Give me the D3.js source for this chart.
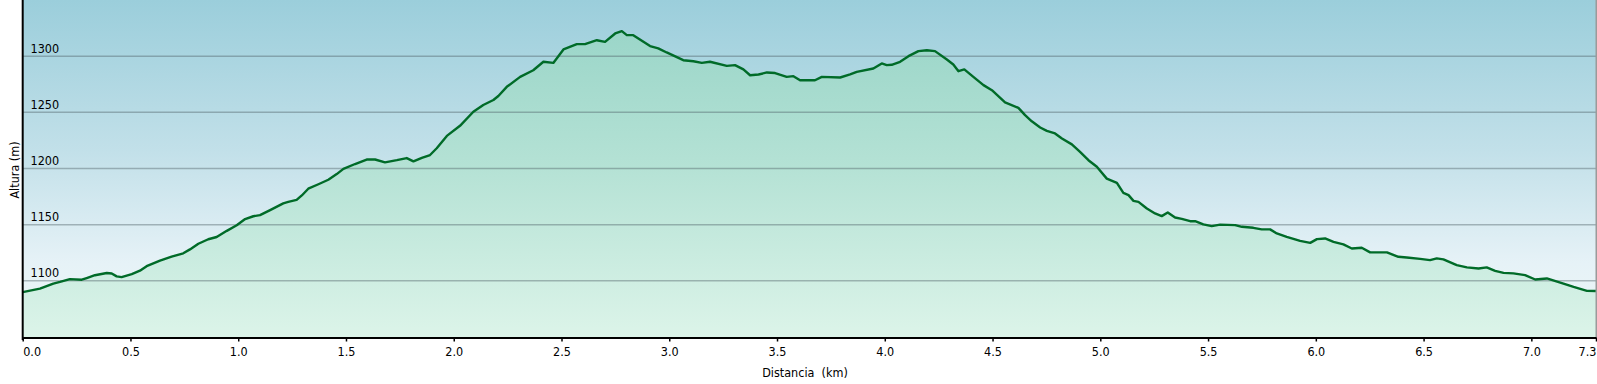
<!DOCTYPE html>
<html>
<head>
<meta charset="utf-8">
<script src="https://cdn.jsdelivr.net/npm/d3@7"></script>
<style>
  html, body { margin: 0; padding: 0; background: #fff; }
  svg { display: block; font-family: "DejaVu Sans Condensed", "DejaVu Sans", sans-serif; }
</style>
</head>
<body>
<svg id="perfil"></svg>
<script>
const distances = [0.0, 0.080, 0.142, 0.173, 0.219, 0.274, 0.297, 0.335, 0.390, 0.413,
  0.436, 0.459, 0.506, 0.544, 0.575, 0.637, 0.691, 0.745, 0.776, 0.815,
  0.861, 0.900, 0.947, 0.993, 1.032, 1.070, 1.101, 1.148, 1.209, 1.232,
  1.271, 1.295, 1.325, 1.372, 1.418, 1.457, 1.488, 1.542, 1.596, 1.635,
  1.681, 1.736, 1.782, 1.813, 1.852, 1.890, 1.921, 1.968, 2.029, 2.091,
  2.137, 2.184, 2.207, 2.246, 2.308, 2.369, 2.416, 2.462, 2.509, 2.571,
  2.609, 2.664, 2.702, 2.749, 2.780, 2.803, 2.833, 2.911, 2.949, 2.988,
  3.065, 3.112, 3.151, 3.189, 3.267, 3.305, 3.344, 3.375, 3.414, 3.453,
  3.491, 3.545, 3.576, 3.607, 3.676, 3.708, 3.793, 3.839, 3.870, 3.947,
  3.986, 4.009, 4.032, 4.071, 4.110, 4.156, 4.195, 4.233, 4.288, 4.318,
  4.342, 4.369, 4.411, 4.458, 4.497, 4.558, 4.620, 4.651, 4.682, 4.721,
  4.752, 4.790, 4.822, 4.868, 4.906, 4.945, 4.984, 5.030, 5.077, 5.107,
  5.131, 5.154, 5.177, 5.216, 5.254, 5.285, 5.313, 5.347, 5.378, 5.417,
  5.440, 5.478, 5.517, 5.556, 5.626, 5.657, 5.710, 5.749, 5.788, 5.819,
  5.865, 5.927, 5.974, 6.005, 6.043, 6.082, 6.128, 6.167, 6.213, 6.252,
  6.330, 6.383, 6.422, 6.484, 6.530, 6.561, 6.592, 6.654, 6.701, 6.755,
  6.793, 6.832, 6.871, 6.917, 6.971, 7.018, 7.072, 7.149, 7.196, 7.258, 7.300];

const elevations = [1090, 1093, 1097.5, 1099, 1101.5, 1101, 1102.5, 1105, 1107, 1106.5,
  1104, 1103.3, 1106, 1109, 1113, 1118, 1121.5, 1124.5, 1128, 1133,
  1137, 1139, 1144.5, 1149.5, 1155, 1157.5, 1158.5, 1163, 1169, 1170.3,
  1172, 1176, 1182, 1186, 1190, 1195, 1199.7, 1204, 1208, 1208,
  1205.5, 1207.4, 1209.3, 1206.4, 1209.5, 1212, 1218, 1229, 1238, 1250.5,
  1256.5, 1261, 1264.5, 1272.7, 1281.6, 1287.5, 1295, 1294, 1306, 1310.7,
  1310.7, 1314.2, 1312.7, 1320.2, 1322.3, 1318.7, 1318.7, 1309, 1307, 1303.3,
  1296.4, 1295.5, 1294, 1295, 1291.4, 1292, 1288.2, 1283, 1283.7, 1285.5,
  1285, 1281.6, 1282.2, 1278.6, 1278.6, 1281.6, 1281, 1283.7, 1286, 1289,
  1293.5, 1292, 1292.3, 1295, 1300, 1304.5, 1305.3, 1304.5, 1297, 1292.6,
  1286.6, 1288.2, 1281.6, 1274.2, 1269.7, 1258.8, 1254, 1247.5, 1242, 1236.5,
  1233.5, 1231.2, 1226.7, 1221.5, 1214.8, 1207.4, 1201.5, 1191, 1187.2, 1178.3,
  1176.3, 1171.2, 1170.3, 1164.4, 1160, 1157.6, 1160.9, 1156.4, 1155.2, 1153.1,
  1153.1, 1150.2, 1148.7, 1150, 1149.6, 1148.1, 1147.2, 1145.8, 1145.8, 1142.2,
  1139.2, 1135.6, 1133.8, 1137.1, 1137.7, 1134.7, 1132.4, 1128.8, 1129.4, 1125.3,
  1125.3, 1121.4, 1120.8, 1119.5, 1118.4, 1120, 1119.1, 1114, 1112, 1111,
  1112, 1108.9, 1107.1, 1106.6, 1105.1, 1101.2, 1102.1, 1097.6, 1094.6, 1091.1, 1091];

const xTicks = [0, 0.5, 1, 1.5, 2, 2.5, 3, 3.5, 4, 4.5, 5, 5.5, 6, 6.5, 7, 7.3];
const yTicks = [1100, 1150, 1200, 1250, 1300];

const width = 1597;
const height = 384;
const plot = { left: 22.7, right: 1596, top: 0, bottom: 337 };

const points = distances.map(function(d, i) {
  return { km: d, m: elevations[i] };
});

const svg = d3.select('#perfil')
  .attr('width', width)
  .attr('height', height);

const x = d3.scaleLinear().domain([0, 7.3]).range([plot.left, plot.right]);
const y = d3.scaleLinear().domain([1050, 1350]).range([plot.bottom, plot.top]);

const defs = svg.append('defs');

const bg = defs.append('linearGradient').attr('id', 'bgGrad')
  .attr('gradientUnits', 'userSpaceOnUse')
  .attr('x1', 0).attr('y1', plot.top).attr('x2', 0).attr('y2', plot.bottom);
bg.append('stop').attr('offset', '0').attr('stop-color', '#9bcedb');
bg.append('stop').attr('offset', '0.45').attr('stop-color', '#c2e0e9');
bg.append('stop').attr('offset', '0.78').attr('stop-color', '#e6f2f7');
bg.append('stop').attr('offset', '1').attr('stop-color', '#eef7f6');

const ar = defs.append('linearGradient').attr('id', 'areaGrad')
  .attr('gradientUnits', 'userSpaceOnUse')
  .attr('x1', 0).attr('y1', plot.top).attr('x2', 0).attr('y2', plot.bottom);
ar.append('stop').attr('offset', '0').attr('stop-color', '#95d3c6');
ar.append('stop').attr('offset', '0.5').attr('stop-color', '#b5e2d5');
ar.append('stop').attr('offset', '1').attr('stop-color', '#dcf4e9');

// fondo
svg.append('rect')
  .attr('x', plot.left).attr('y', plot.top)
  .attr('width', plot.right - plot.left)
  .attr('height', plot.bottom - plot.top)
  .attr('fill', 'url(#bgGrad)');

// area bajo el perfil
const area = d3.area()
  .x(function(d) { return x(d.km); })
  .y0(plot.bottom)
  .y1(function(d) { return y(d.m); });

svg.append('path')
  .datum(points)
  .attr('d', area)
  .attr('fill', 'url(#areaGrad)');

// lineas de cuadricula y etiquetas
const grid = svg.append('g').attr('class', 'grid');
grid.selectAll('line')
  .data(yTicks)
  .enter()
  .append('line')
  .attr('x1', plot.left)
  .attr('x2', plot.right)
  .attr('y1', function(d) { return y(d); })
  .attr('y2', function(d) { return y(d); })
  .attr('stroke', '#4f5f66')
  .attr('stroke-opacity', 0.42)
  .attr('stroke-width', 1.5);

grid.selectAll('text')
  .data(yTicks)
  .enter()
  .append('text')
  .attr('x', 30.5)
  .attr('y', function(d) { return y(d) - 3.5; })
  .style('font-size', '12.5px')
  .attr('fill', '#000')
  .text(function(d) { return d; });

// perfil
const line = d3.line()
  .x(function(d) { return x(d.km); })
  .y(function(d) { return y(d.m); });

svg.append('path')
  .datum(points)
  .attr('d', line)
  .attr('fill', 'none')
  .attr('stroke', '#006b28')
  .attr('stroke-width', 2.4)
  .attr('stroke-linejoin', 'round');

// borde derecho
svg.append('rect')
  .attr('x', plot.right - 0.5).attr('y', plot.top)
  .attr('width', 2.5).attr('height', plot.bottom - plot.top)
  .attr('fill', '#9a9a9a');

// eje x
const xAxis = d3.axisBottom(x)
  .tickValues(xTicks)
  .tickFormat(d3.format('.1f'))
  .tickSize(4)
  .tickSizeOuter(0)
  .tickPadding(6);

const gx = svg.append('g')
  .attr('class', 'x axis')
  .attr('transform', 'translate(0,' + (plot.bottom + 0.5) + ')')
  .call(xAxis);

gx.select('.domain')
  .attr('stroke', '#000')
  .attr('stroke-width', 2);
gx.selectAll('.tick line').attr('stroke', '#000').attr('stroke-width', 1.5);
gx.selectAll('.tick text')
  .style('font-size', '12.5px')
  .style('font-family', '"DejaVu Sans Condensed", "DejaVu Sans", sans-serif')
  .attr('fill', '#000')
  .attr('text-anchor', function(d, i) {
    if (i === 0) return 'start';
    if (i === xTicks.length - 1) return 'end';
    return 'middle';
  });

// eje y (solo linea)
svg.append('line')
  .attr('x1', plot.left).attr('x2', plot.left)
  .attr('y1', plot.top).attr('y2', plot.bottom + 3)
  .attr('stroke', '#000')
  .attr('stroke-width', 2);

// titulos de ejes
svg.append('text')
  .attr('x', 805)
  .attr('y', 377)
  .attr('text-anchor', 'middle')
  .style('font-size', '12.5px')
  .style('white-space', 'pre')
  .text('Distancia  (km)');

svg.append('text')
  .attr('transform', 'translate(18.5,170) rotate(-90)')
  .attr('text-anchor', 'middle')
  .style('font-size', '12.5px')
  .text('Altura (m)');
</script>
</body>
</html>
